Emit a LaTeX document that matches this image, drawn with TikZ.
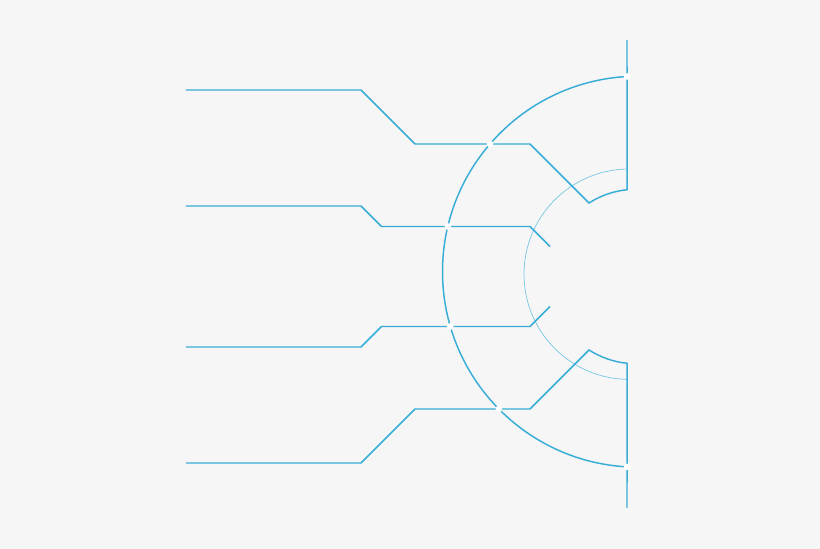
\documentclass[tikz,border=0pt]{standalone}
\usetikzlibrary{calc}
\definecolor{wirecol}{HTML}{38ADD6}
\definecolor{thincol}{HTML}{72C5E3}
\definecolor{bgcol}{HTML}{F6F6F6}
\tikzset{
	wire/.style={
		draw=wirecol,
		line width=1.1pt,
		line join=miter
	},
	thinarc/.style={
		draw=thincol,
		line width=0.5pt
	},
	gapdot/.style={
		fill=white,
		draw=none
	}
}
\begin{document}
\begin{tikzpicture}[x=0.75pt, y=0.75pt]
		\fill[bgcol] (0,0) rectangle (820,549);
		\useasboundingbox (0,0) rectangle (820,549);

		\coordinate (hub) at (636,272.5);
		\coordinate (outer) at (638,277.3);
		\coordinate (inner) at (629.2,274.8);

		% inner and outer rings
		\draw[thinarc] ($(inner)+(91.2:105.2)$) arc[start angle=91.2, end angle=268.8, radius=105.2];
		\draw[wire] ($(outer)+(93.2:195.5)$) arc[start angle=93.2, end angle=266.8, radius=195.5];

		% upper leads
		\draw[wire] (186,459) -- (361,459) -- (415,405) -- (530,405) -- ($(hub)+(122.6:87.24)$)
			arc[start angle=122.6, end angle=95.9, radius=87.24] -- (627,509);
		\draw[wire] (186,343) -- (361,343) -- (381.5,322.5) -- (530,322.5) -- (550,302.5);

		% lower leads
		\draw[wire] (186,202) -- (361,202) -- (381.5,222.5) -- (530,222.5) -- (550,242.5);
		\draw[wire] (186,86) -- (361,86) -- (415,140) -- (530,140) -- ($(hub)+(-122.6:87.24)$)
			arc[start angle=-122.6, end angle=-95.9, radius=87.24] -- (627,41);

		% gaps where lines cross
		\foreach \p in {(490,405), (447.8,322.5), (450.3,222.5), (498.8,140), (627,472.5), (627,82.1)}
			\fill[gapdot] \p circle[radius=3.3];
	\end{tikzpicture}
\end{document}
